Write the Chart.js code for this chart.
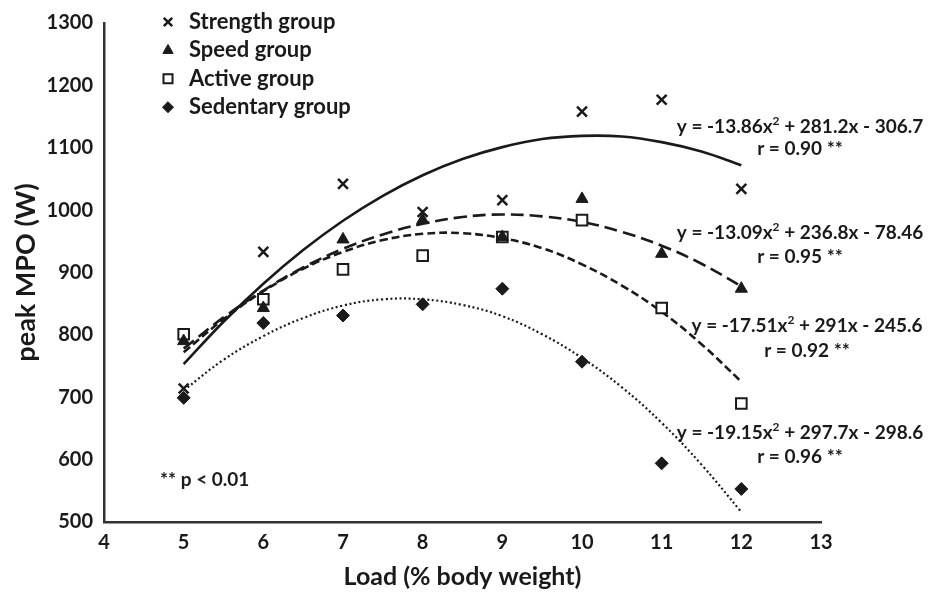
<!DOCTYPE html>
<html>
<head>
<meta charset="utf-8">
<script src="https://cdn.jsdelivr.net/npm/chart.js@4.4.1/dist/chart.umd.min.js"></script>
<style>
  html, body { margin: 0; padding: 0; background: #fff; }
</style>
</head>
<body>
<canvas id="myChart" width="931" height="598"></canvas>
<script>
// measured points, peak MPO (W) per load (% body weight)
const loads = [5, 6, 7, 8, 9, 10, 11, 12];
const strength = [714, 933, 1042, 997, 1016, 1158, 1177, 1034];
const speed = [790, 843, 953, 984, 957, 1018, 930, 874];
const active = [801, 857, 905, 927, 957, 984, 843, 690];
const sedentary = [699, 819, 831, 849, 874, 757, 594, 553];

// trend curves, every half unit
const fitLoads = [5, 5.5, 6, 6.5, 7, 7.5, 8, 8.5, 9, 9.5, 10, 10.5, 11, 11.5, 12];
const fitStrength = [753, 821, 882, 936, 983, 1023, 1056, 1082, 1101, 1114, 1119, 1118, 1109, 1094, 1072];
const fitSpeed = [778, 828, 871, 908, 938, 961, 978, 989, 993, 990, 981, 965, 943, 914, 878];
const fitActive = [772, 825, 870, 906, 933, 952, 962, 963, 955, 939, 913, 879, 837, 785, 725];
const fitSedentary = [711, 760, 798, 827, 847, 857, 857, 848, 830, 801, 763, 716, 659, 592, 516];

const groupNames = ['Strength group', 'Speed group', 'Active group', 'Sedentary group'];
const equations = [
    ['y = -13.86x', '2', ' + 281.2x - 306.7', 'r = 0.90 **'],
    ['y = -13.09x', '2', ' + 236.8x - 78.46', 'r = 0.95 **'],
    ['y = -17.51x', '2', ' + 291x - 245.6', 'r = 0.92 **'],
    ['y = -19.15x', '2', ' + 297.7x - 298.6', 'r = 0.96 **']
];
const noteText = '** p < 0.01';

const xTicks = [4, 5, 6, 7, 8, 9, 10, 11, 12, 13];
const yTicks = [500, 600, 700, 800, 900, 1000, 1100, 1200, 1300];

const FONT = 'Lato';
const INK = '#1a1a1a';

function pts(xs, ys) {
    return xs.map((x, i) => ({ x: x, y: ys[i] }));
}

const markers = [
    { pointStyle: 'crossRot', radius: 7, borderWidth: 2.5, bg: INK },
    { pointStyle: 'triangle', radius: 7, borderWidth: 1, bg: INK },
    { pointStyle: 'rect', radius: 7.5, borderWidth: 2, bg: '#fff' },
    { pointStyle: 'rectRot', radius: 6.5, borderWidth: 1, bg: INK }
];

const series = [strength, speed, active, sedentary];
const fits = [fitStrength, fitSpeed, fitActive, fitSedentary];
const dashes = [[], [13, 6], [8, 4], [2, 2.6]];
const lineWidths = [2.6, 2.6, 2.6, 2.2];

const datasets = [];
series.forEach((s, i) => {
    datasets.push({
        type: 'scatter',
        label: groupNames[i],
        data: pts(loads, s),
        pointStyle: markers[i].pointStyle,
        pointRadius: markers[i].radius,
        pointBorderWidth: markers[i].borderWidth,
        pointBorderColor: INK,
        pointBackgroundColor: markers[i].bg,
        showLine: false,
        order: 1
    });
});
fits.forEach((f, i) => {
    datasets.push({
        type: 'line',
        label: groupNames[i] + ' fit',
        data: pts(fitLoads, f),
        borderColor: INK,
        borderWidth: lineWidths[i],
        borderDash: dashes[i],
        pointRadius: 0,
        tension: 0.4,
        fill: false,
        order: 2
    });
});

function drawSupText(ctx, parts, cx, cy, size) {
    const base = `bold ${size}px ${FONT}`;
    const small = `bold ${Math.round(size * 0.62)}px ${FONT}`;
    ctx.font = base;
    const w1 = ctx.measureText(parts[0]).width;
    const w3 = ctx.measureText(parts[2]).width;
    ctx.font = small;
    const w2 = ctx.measureText(parts[1]).width;
    let x = cx - (w1 + w2 + w3) / 2;
    ctx.textAlign = 'left';
    ctx.textBaseline = 'middle';
    ctx.font = base;
    ctx.fillText(parts[0], x, cy);
    x += w1;
    ctx.font = small;
    ctx.fillText(parts[1], x, cy - size * 0.3);
    x += w2;
    ctx.font = base;
    ctx.fillText(parts[2], x, cy);
}

const textPlugin = {
    id: 'insideTexts',
    afterDraw(chart) {
        const ctx = chart.ctx;
        ctx.save();
        // legend inside the plot
        groupNames.forEach((name, i) => {
            const y = 22 + i * 28.4;
            ctx.fillStyle = markers[i].bg;
            ctx.strokeStyle = INK;
            ctx.lineWidth = markers[i].borderWidth;
            Chart.helpers.drawPoint(ctx, {
                pointStyle: markers[i].pointStyle,
                radius: markers[i].radius * 0.85,
                borderWidth: markers[i].borderWidth,
                rotation: 0
            }, 168, y);
            ctx.fillStyle = INK;
            ctx.font = `bold 22px ${FONT}`;
            ctx.textAlign = 'left';
            ctx.textBaseline = 'middle';
            ctx.fillText(name, 189, y);
        });

        // fitted equations
        const eqPos = [[800, 127, 149], [800, 233, 257], [807, 326, 351], [800, 433, 457]];
        ctx.fillStyle = INK;
        equations.forEach((eq, i) => {
            const p = eqPos[i];
            drawSupText(ctx, eq, p[0], p[1], 19);
            ctx.font = `bold 19px ${FONT}`;
            ctx.textAlign = 'center';
            ctx.fillText(eq[3], p[0], p[2]);
        });

        ctx.font = `bold 19px ${FONT}`;
        ctx.textAlign = 'left';
        ctx.fillText(noteText, 160, 480);
        ctx.restore();
    }
};

const ctx = document.getElementById('myChart').getContext('2d');
new Chart(ctx, {
    data: { datasets: datasets },
    plugins: [textPlugin],
    options: {
        responsive: false,
        animation: false,
        devicePixelRatio: 1,
        layout: { padding: { left: 0, right: 110, top: 20, bottom: 0 } },
        plugins: {
            legend: { display: false },
            tooltip: { enabled: false }
        },
        scales: {
            x: {
                type: 'linear',
                min: xTicks[0],
                max: xTicks[xTicks.length - 1],
                afterBuildTicks: scale => { scale.ticks = xTicks.map(v => ({ value: v })); },
                afterFit: scale => { scale.height = 76; },
                grid: { display: false, drawTicks: false },
                border: { display: true, color: '#333', width: 2.5 },
                ticks: {
                    color: INK, padding: 9,
                    font: { family: FONT, size: 20, weight: 'bold' },
                    callback: v => String(v)
                },
                title: {
                    display: true,
                    text: 'Load (% body weight)',
                    color: INK,
                    padding: { top: 0, bottom: 6 },
                    font: { family: FONT, size: 25, weight: 'bold' }
                }
            },
            y: {
                type: 'linear',
                min: yTicks[0],
                max: yTicks[yTicks.length - 1],
                afterBuildTicks: scale => { scale.ticks = yTicks.map(v => ({ value: v })); },
                afterFit: scale => { scale.width = 104; },
                grid: { display: false, drawTicks: false },
                border: { display: true, color: '#333', width: 2.5 },
                ticks: {
                    color: INK, padding: 11,
                    font: { family: FONT, size: 20, weight: 'bold' },
                    callback: v => String(v)
                },
                title: {
                    display: true,
                    text: 'peak MPO (W)',
                    color: INK,
                    padding: { top: 10, bottom: 0 },
                    font: { family: FONT, size: 27, weight: 'bold' }
                }
            }
        }
    }
});
</script>
</body>
</html>
